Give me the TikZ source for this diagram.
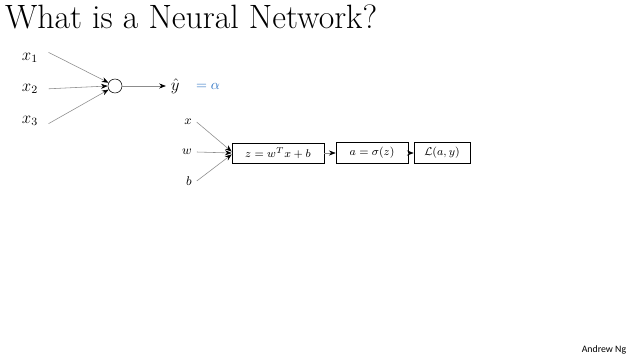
\documentclass[tikz,border=0pt]{standalone}
\usepackage{amsmath,amssymb,xcolor}
\usepackage{fontspec}
\newfontfamily\signfont{Carlito}
\definecolor{nnblue}{RGB}{52,120,198}
\definecolor{nngray}{RGB}{140,140,140}
\usetikzlibrary{arrows.meta,positioning}

\begin{document}
\begin{tikzpicture}
  \useasboundingbox[fill=white] (0,0) rectangle (16.025,9);
  \node[anchor=base west,font=\fontsize{24}{27}\selectfont,inner sep=0pt]
        (title) at (0.12,8.28) {What is a Neural Network?};
  % one neuron
  \node[font=\large] (x1) at (0.75,7.55) {$x_1$};
  \node[font=\large] (x2) at (0.75,6.78) {$x_2$};
  \node[font=\large] (x3) at (0.75,5.98) {$x_3$};
  \node[draw,circle,minimum size=0.35cm,inner sep=0pt] (n) at (2.875,6.85) {};
  \node[font=\large] (yhat) at (4.38,6.85) {$\hat{y}$};
  \node[text=nnblue,font=\normalsize] (alpha) at (5.2,6.85) {$=\alpha$};
  \draw[-{Stealth[black]},nngray] ([xshift=4pt,yshift=4pt]x1.east) -- (n);
  \draw[-{Stealth[black]},nngray] ([xshift=4pt]x2.east) -- (n.west);
  \draw[-{Stealth[black]},nngray] ([xshift=4pt,yshift=-2pt]x3.east) -- (n);
  \draw[-{Stealth[black]},nngray] (n.east) -- (yhat.west);
  % computation graph
  \node[font=\small] (x) at (4.7,5.95) {$x$};
  \node[font=\small] (w) at (4.675,5.2) {$w$};
  \node[font=\small] (b) at (4.725,4.475) {$b$};
  \node[draw,minimum width=2.3cm,minimum height=0.5cm,font=\footnotesize]
        (z) at (6.95,5.175) {$z = w^T x + b$};
  \node[draw,minimum width=1.8cm,minimum height=0.5cm,font=\footnotesize]
        (a) at (9.3,5.175) {$a = \sigma(z)$};
  \node[draw,minimum width=1.4cm,minimum height=0.5cm,font=\footnotesize]
        (L) at (11.05,5.175) {$\mathcal{L}(a,y)$};
  \draw[-{Stealth[black]},nngray] (x.east) -- ([yshift=1pt]z.west);
  \draw[-{Stealth[black]},nngray] (w.east) -- (z.west);
  \draw[-{Stealth[black]},nngray] (b.east) -- ([yshift=-1pt]z.west);
  \draw[-{Stealth[black]},nngray] (z.east) -- (a.west);
  \draw[-{Stealth[black]},nngray] (a.east) -- (L.west);
  \node[font=\signfont\scriptsize] (sign) at (15.1,0.25) {Andrew Ng};
\end{tikzpicture}
\end{document}
